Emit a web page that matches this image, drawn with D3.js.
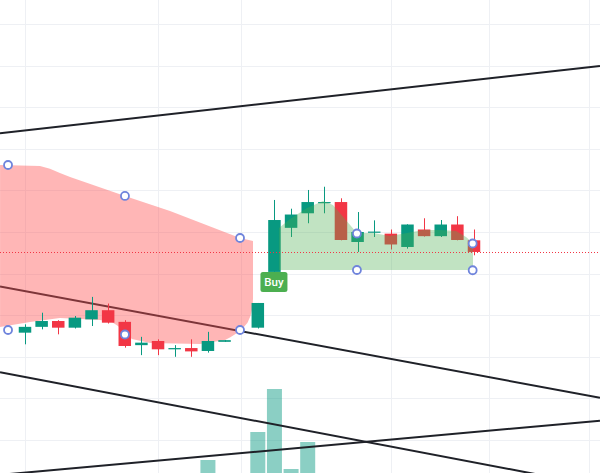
<!DOCTYPE html>
<html><head><meta charset="utf-8">
<script src="https://cdn.jsdelivr.net/npm/d3@7"></script>
<style>html,body{margin:0;padding:0;background:#fff;overflow:hidden}</style>
</head><body><svg id="c" width="600" height="473"></svg>
<script>
// ---- data (bar index, price) ----
const opens  = [122.9,123.6,124.3,123.5,124.5,125.6,124.2,121.4,121.9,120.9,121.05,120.7,121.8,null,123.5,130.2,135.5,137.25,138.55,138.6,133.8,135.0,134.8,133.2,135.3,134.5,135.9,134.0];
const highs  = [123.9,125.3,124.4,124.9,127.2,126.4,124.4,122.4,122.1,121.4,122.1,123.0,122.0,null,126.47,138.85,137.8,140.05,140.44,139.05,137.4,136.4,135.3,135.93,136.65,136.44,136.9,135.3];
const lows   = [121.5,123.3,122.7,123.4,123.7,124.0,121.1,120.2,120.2,120.0,120.0,120.5,121.8,null,123.4,130.0,134.4,136.05,137.25,134.0,132.6,134.4,132.9,133.0,134.45,134.4,134.0,132.2];
const closes = [123.6,124.3,123.5,124.7,125.6,124.1,121.3,121.7,120.9,121.05,120.65,121.9,122.0,null,126.47,136.44,137.1,138.6,138.6,134.04,135.0,135.05,133.5,135.9,134.5,135.9,134.04,132.6];
const volumes = [4,3,5,2,6,4,5,3,2,4,3,20,5,null,48,91,11,38,6,5,4,3,5,4,3,2,4,5];

const priceTicks = [105,110,115,120,125,130,135,140,145,150,155,160,165];
const timeTicks = [0,8,13,22,27.92,33.93];

// trend lines: [i1, p1, i2, p2]
const trendLines = [
  [-1.503,146.86,34.575,154.95],
  [-1.503,128.45,34.575,115.08],
  [-1.503,118.14,34.575,104.43],
  [-1.503,105.81,34.575,112.32]
];

// curved region (red) outline: index, price
const redRegionI = [-1.5,0.9,1.5,2.1,2.71,6.01,8.72,12.93,13.71,13.71,13.68,13.57,13.38,13.11,12.75,12.35,12.03,10.52,7.52,6.43,5.59,5.2,4.51,2.10,0.30,-1.5];
const redRegionP = [143.05,142.93,142.6,142.1,141.61,139.33,137.52,134.28,133.92,127.0,125.9,124.95,124.1,123.45,122.85,122.35,122.02,121.54,121.66,122.14,123.70,124.2,124.42,124.66,124.18,123.58];

// green region outline
const greenRegionI = [15.27,15.94,16.96,17.92,18.52,19.24,19.96,20.93,21.95,22.97,23.93,24.95,25.92,26.52,26.94,26.94,26.76,15.27];
const greenRegionP = [135.48,136.56,137.88,138.73,138.25,136.56,134.88,134.88,134.52,134.88,135.24,135.24,135.12,134.40,133.68,130.91,130.43,130.43];

// anchor handles
const handleI = [-1.02,6.01,12.93,-1.02,6.01,12.93,19.96,19.96,26.92,26.92];
const handleP = [143.05,139.33,134.28,123.22,122.68,123.22,134.82,130.43,133.62,130.40];

const buyIndex = 15;
const buyText = "Buy";

// ---- scales ----
const W = 600, H = 473;
const x = d3.scaleLinear().domain([0,27]).range([25,474]);
const y = d3.scaleLinear().domain([110,160]).range([440,24]);
const v = d3.scaleLinear().domain([0,100]).range([480,380]);

const svg = d3.select("#c");
svg.append("rect").attr("width",W).attr("height",H).attr("fill","#fff");

// grid
const g = svg.append("g");
g.selectAll(".h").data(priceTicks).enter().append("line")
  .attr("x1",0).attr("x2",W).attr("y1",d=>Math.round(y(d))+0.5).attr("y2",d=>Math.round(y(d))+0.5)
  .attr("stroke","#eef0f4").attr("stroke-width",1);
g.selectAll(".v").data(timeTicks).enter().append("line")
  .attr("y1",0).attr("y2",H).attr("x1",d=>Math.round(x(d))+0.5).attr("x2",d=>Math.round(x(d))+0.5)
  .attr("stroke","#eef0f4").attr("stroke-width",1);

const bars = d3.range(opens.length).filter(i=>opens[i]!==null);

// volume
svg.append("g").selectAll("rect").data(bars.filter(i=>volumes[i]!==null)).enter().append("rect")
  .attr("x",i=>x(i)-7.5).attr("width",15)
  .attr("y",i=>v(volumes[i])).attr("height",i=>v(0)-v(volumes[i]))
  .attr("fill","rgba(8,153,129,0.47)");

// trend lines
svg.append("g").selectAll("line").data(trendLines).enter().append("line")
  .attr("x1",d=>x(d[0])).attr("y1",d=>y(d[1])).attr("x2",d=>x(d[2])).attr("y2",d=>y(d[3]))
  .attr("stroke","#1f2128").attr("stroke-width",2);

const lineLin = d3.line().x(d=>x(d[0])).y(d=>y(d[1]));

// red region
svg.append("path").datum(redRegionI.map((d,k)=>[d,redRegionP[k]]))
  .attr("d",lineLin).attr("fill","rgba(255,82,82,0.42)");

// candles
const up = "#089981", dn = "#f23645";
const cg = svg.append("g");
cg.selectAll("line").data(bars).enter().append("line")
  .attr("x1",i=>Math.round(x(i))+0.5).attr("x2",i=>Math.round(x(i))+0.5)
  .attr("y1",i=>y(highs[i])).attr("y2",i=>y(lows[i]))
  .attr("stroke",i=>closes[i]>=opens[i]?up:dn).attr("stroke-width",1);
cg.selectAll("rect").data(bars).enter().append("rect")
  .attr("x",i=>x(i)-6.25).attr("width",12.5)
  .attr("y",i=>y(Math.max(opens[i],closes[i])))
  .attr("height",i=>Math.max(1.2,Math.abs(y(opens[i])-y(closes[i]))))
  .attr("fill",i=>closes[i]>=opens[i]?up:dn);

// green region
svg.append("path").datum(greenRegionI.map((d,k)=>[d,greenRegionP[k]]))
  .attr("d",lineLin).attr("fill","rgba(76,175,80,0.35)");

// last price dotted line
const lastClose = closes[closes.length-1];
svg.append("line").attr("x1",0).attr("x2",W)
  .attr("y1",Math.round(y(lastClose))+0.5).attr("y2",Math.round(y(lastClose))+0.5)
  .attr("stroke","#f23645").attr("stroke-width",1).attr("stroke-dasharray","1,2");

// handles
svg.append("g").selectAll("circle").data(handleI.map((d,k)=>[d,handleP[k]])).enter().append("circle")
  .attr("cx",d=>x(d[0])).attr("cy",d=>y(d[1])).attr("r",4)
  .attr("fill","#fff").attr("stroke","#6f84dc").attr("stroke-width",1.8);

// Buy label
const bx = x(buyIndex), by = y(opens[buyIndex]);
const lab = svg.append("g");
lab.append("rect").attr("x",bx-14).attr("y",by).attr("width",27).attr("height",20)
  .attr("rx",2.5).attr("fill","#4caf50");
lab.append("text").attr("x",bx-0.5).attr("y",by+14.2).attr("text-anchor","middle")
  .attr("font-family","Roboto, 'Open Sans', sans-serif").attr("font-size",11.5).attr("font-weight",500)
  .attr("fill","#fff").text(buyText);
</script></body></html>
